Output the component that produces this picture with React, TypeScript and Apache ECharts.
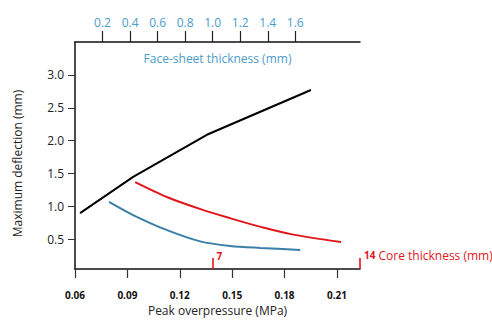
import React, { useEffect, useRef } from "react";
import * as echarts from "echarts";

// Peak overpressure (MPa) vs max deflection — black
const pressureX = [0.0629, 0.0933, 0.1355, 0.1951];
const pressureY = [0.9, 1.45, 2.09, 2.77];
// Face-sheet thickness (mm) vs max deflection — blue
const faceX = [0.247, 0.422, 0.669, 0.909, 1.127, 1.345, 1.636];
const faceY = [1.07, 0.87, 0.64, 0.47, 0.4, 0.37, 0.34];
// Core thickness (mm) vs max deflection — red
const coreX = [3.33, 4.86, 6.43, 7.86, 9.29, 10.71, 13.1];
const coreY = [1.37, 1.14, 0.96, 0.82, 0.69, 0.58, 0.46];

const pressureTicks = [0.06, 0.09, 0.12, 0.15, 0.18, 0.21];
const faceTicks = [0.2, 0.4, 0.6, 0.8, 1.0, 1.2, 1.4, 1.6];
const coreTicks = [7, 14];
const deflTicks = [0.5, 1.0, 1.5, 2.0, 2.5, 3.0];

const FONT = "'Open Sans', 'Noto Sans', sans-serif";
const RED = "#e0161c";
const BLUE = "#3b7ea6";
const LBLUE = "#4a9ccb";

export default function App() {
  const ref = useRef<HTMLDivElement>(null);
  useEffect(() => {
    document.body.style.margin = "0";
    const chart = echarts.init(ref.current!, null, { renderer: "svg" });
    chart.setOption({
      animation: false,
      backgroundColor: "#fff",
      grid: { left: 75, right: 132, top: 42, bottom: 52, containLabel: false, outerBoundsMode: "none" },
      xAxis: [
        {
          type: "value",
          position: "bottom",
          min: 0.06,
          max: 0.2232,
          splitLine: { show: false },
          axisLine: { show: true, lineStyle: { color: "#111", width: 1.5 } },
          axisTick: { show: true, customValues: pressureTicks, length: 9, lineStyle: { color: "#333", width: 1.2 } },
          axisLabel: {
            customValues: pressureTicks,
            formatter: (v: number) => v.toFixed(2),
            fontFamily: FONT,
            fontWeight: "bold",
            fontSize: 10,
            color: "#111",
            margin: 21,
          },
          name: "Peak overpressure (MPa)",
          nameLocation: "middle",
          nameGap: 35,
          nameMoveOverlap: false,
          nameTextStyle: { fontFamily: FONT, fontSize: 12, color: "#222" },
        },
        {
          type: "value",
          position: "top",
          min: 0,
          max: 2.07,
          splitLine: { show: false },
          axisLine: { show: true, lineStyle: { color: "#111", width: 1.5 } },
          axisTick: { show: true, customValues: faceTicks, length: 11, lineStyle: { color: "#222", width: 1.2 } },
          axisLabel: {
            customValues: faceTicks,
            formatter: (v: number) => v.toFixed(1),
            fontFamily: FONT,
            fontSize: 12,
            color: LBLUE,
            margin: 14,
          },
          name: "Face-sheet thickness (mm)",
          nameLocation: "middle",
          nameGap: -22,
          nameMoveOverlap: false,
          nameTextStyle: { fontFamily: FONT, fontSize: 12, color: LBLUE },
        },
        {
          type: "value",
          position: "bottom",
          min: 0.476,
          max: 14,
          splitLine: { show: false },
          axisLine: { show: false },
          axisTick: { show: true, inside: true, customValues: coreTicks, length: 11, lineStyle: { color: RED, width: 1.6 } },
          axisLabel: {
            customValues: coreTicks,
            inside: true,
            showMaxLabel: true,
            align: "left",
            margin: 8,
            padding: [0, 0, 0, 4],
            fontFamily: FONT,
            fontSize: 12,
            color: RED,
            formatter: (v: number) => (v === 14 ? "{b|14} {n|Core thickness (mm)}" : "{b|" + v + "}"),
            rich: {
              b: { fontFamily: FONT, fontWeight: "bold", fontSize: 10, color: RED },
              n: { fontFamily: FONT, fontSize: 12, color: RED },
            },
          },
        },
      ],
      yAxis: {
        type: "value",
        min: 0.05,
        max: 3.5,
        splitLine: { show: false },
        axisLine: { show: true, lineStyle: { color: "#111", width: 1.5 } },
        axisTick: { show: true, customValues: deflTicks, length: 7, lineStyle: { color: "#333" } },
        axisLabel: {
          customValues: deflTicks,
          formatter: (v: number) => v.toFixed(1),
          fontFamily: FONT,
          fontSize: 12,
          color: "#222",
          margin: 11,
        },
        name: "Maximum deflection (mm)",
        nameLocation: "middle",
        nameGap: 52,
        nameMoveOverlap: false,
        nameTextStyle: { fontFamily: FONT, fontSize: 12, color: "#222", padding: [0, 16, 0, 0] },
      },
      series: [
        {
          type: "line",
          xAxisIndex: 0,
          data: pressureX.map((x, i) => [x, pressureY[i]]),
          showSymbol: false,
          lineStyle: { color: "#000", width: 2 },
        },
        {
          type: "line",
          xAxisIndex: 1,
          data: faceX.map((x, i) => [x, faceY[i]]),
          showSymbol: false,
          smooth: 0.3,
          lineStyle: { color: BLUE, width: 2 },
        },
        {
          type: "line",
          xAxisIndex: 2,
          data: coreX.map((x, i) => [x, coreY[i]]),
          showSymbol: false,
          smooth: 0.3,
          lineStyle: { color: RED, width: 2 },
        },
      ],
    });
    return () => chart.dispose();
  }, []);
  return <div ref={ref} style={{ width: 492, height: 321 }} />;
}
